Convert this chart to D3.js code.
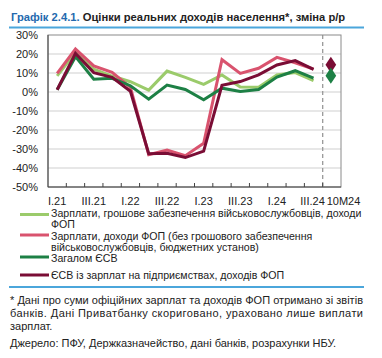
<!DOCTYPE html>
<html><head><meta charset="utf-8">
<script src="https://cdn.jsdelivr.net/npm/d3@7"></script>
<style>
html,body{margin:0;padding:0;background:#fff;}
svg{display:block;font-family:"Liberation Sans",Arial,sans-serif;}
</style></head>
<body>
<script>
const categories = ["I.21","II.21","III.21","IV.21","I.22","II.22","III.22","IV.22","I.23","II.23","III.23","IV.23","I.24","II.24","III.24","10M24"];
const tickLabels = ["I.21","III.21","I.22","III.22","I.23","III.23","I.24","III.24","10M24"];
const yTicks = [30,20,10,0,-10,-20,-30,-40,-50];

const wagesAll      = [8.5, 20.8, 12.0, 8.4, 5.4, 1.0, 11.0, 7.7, 4.0, 9.0, 2.6, 2.5, 9.0, 10.2, 6.0];
const wagesNoMil    = [9.8, 22.6, 13.7, 10.4, 2.5, -33.0, -30.5, -33.5, -27.0, 17.0, 9.8, 12.5, 18.2, 15.4, 12.0];
const esvTotal      = [1.2, 18.6, 6.7, 7.2, 3.3, -3.8, 3.6, 1.3, -4.1, 2.0, 0.3, 1.3, 7.9, 11.2, 7.3];
const esvEnterprise = [1.2, 20.3, 10.2, 7.7, 0.4, -32.5, -32.3, -34.5, -31.1, 3.5, 5.5, 9.0, 14.2, 16.5, 11.9];
const esvTotal10M = 8.6;
const esvEnterprise10M = 14.3;

const seriesNames = [
  ["Зарплати, грошове забезпечення військовослужбовців, доходи","ФОП"],
  ["Зарплати, доходи ФОП (без грошового забезпечення","військовослужбовців, бюджетних установ)"],
  ["Загалом ЄСВ"],
  ["ЄСВ із зарплат на підприємствах, доходів ФОП"]
];
const colors = ["#9BCB6B","#D9536E","#1D8045","#7A0D35"];

(function(){
const W=382,H=358;
const svg=d3.select("body").append("svg").attr("width",W).attr("height",H);

// title
const t=svg.append("text").attr("x",11).attr("y",21).attr("font-size",11.2).attr("font-weight","bold");
t.append("tspan").attr("fill","#2469AE").text("Графік 2.4.1. ");
t.append("tspan").attr("fill","#222").text("Оцінки реальних доходів населення*, зміна р/р");
svg.append("line").attr("x1",9).attr("x2",364).attr("y1",27.5).attr("y2",27.5).attr("stroke","#4BA6DB").attr("stroke-width",2);

const pL=48,pR=341,pT=35,pB=187;
const x=d3.scaleBand().domain(categories).range([pL,pR]);
const y=d3.scaleLinear().domain([-50,30]).range([pB,pT]);
const cx=d=>x(d)+x.bandwidth()/2;

// grid
svg.append("g").selectAll("line").data(yTicks.filter(v=>v>-50&&v<30)).join("line")
  .attr("x1",pL).attr("x2",pR).attr("y1",d=>y(d)).attr("y2",d=>y(d))
  .attr("stroke","#cfcfcf").attr("stroke-width",1);

// dashed separator
const sepX = x("10M24");
svg.append("line").attr("x1",sepX).attr("x2",sepX).attr("y1",pT).attr("y2",pB)
  .attr("stroke","#999").attr("stroke-width",1.3).attr("stroke-dasharray","4,3");

// frame
svg.append("rect").attr("x",pL).attr("y",pT).attr("width",pR-pL).attr("height",pB-pT)
  .attr("fill","none").attr("stroke","#8a8a8a").attr("stroke-width",1);
svg.append("line").attr("x1",pL).attr("x2",pL).attr("y1",pT).attr("y2",pB).attr("stroke","#444");
svg.append("line").attr("x1",pL).attr("x2",pR).attr("y1",pB).attr("y2",pB).attr("stroke","#444");

// x ticks
svg.append("g").selectAll("line").data(categories.slice(1)).join("line")
  .attr("x1",d=>x(d)).attr("x2",d=>x(d)).attr("y1",pB).attr("y2",pB-4)
  .attr("stroke","#444");

// x labels
svg.append("g").selectAll("text").data(tickLabels).join("text")
  .attr("x",d=>d==="10M24"?sepX+4:cx(d)-(d==="III.24"?1:0)).attr("y",205)
  .attr("text-anchor",d=>d==="10M24"?"start":"middle").attr("font-size",11).attr("fill","#222").text(d=>d);

// y labels
svg.append("g").selectAll("text").data(yTicks).join("text")
  .attr("x",38).attr("y",d=>y(d)+4).attr("text-anchor","end").attr("font-size",11).attr("fill","#222")
  .text(d=>d+"%");

// lines
const line=d3.line().x((d,i)=>cx(categories[i])).y(d=>y(d));
[wagesAll,wagesNoMil,esvTotal,esvEnterprise].forEach((s,i)=>{
  svg.append("path").datum(s).attr("d",line).attr("fill","none")
    .attr("stroke",colors[i]).attr("stroke-width",3).attr("stroke-linejoin","miter");
});

// diamonds
const sym=d3.symbol().type(d3.symbolDiamond).size(75);
[[esvEnterprise10M,colors[3]],[esvTotal10M,colors[2]]].forEach(([v,c])=>{
  svg.append("path").attr("d",sym).attr("transform",`translate(${cx("10M24")-1},${y(v)}) scale(1.15,1)`).attr("fill",c);
});

// legend
const legLineY=[214.5,235,257,275];
const legTextY=[[213,224.5],[236,247],[258.5],[275.5]];
seriesNames.forEach((lines,i)=>{
  svg.append("line").attr("x1",20).attr("x2",49).attr("y1",legLineY[i]).attr("y2",legLineY[i])
    .attr("stroke",colors[i]).attr("stroke-width",3);
  lines.forEach((l,j)=>{
    svg.append("text").attr("x",51).attr("y",legTextY[i][j]+3.8).attr("font-size",10.6).attr("fill","#222").text(l);
  });
});

svg.append("line").attr("x1",9).attr("x2",364).attr("y1",287).attr("y2",287).attr("stroke","#4BA6DB").attr("stroke-width",2);

const foot=[
  ["* Дані про суми офіційних зарплат та доходів ФОП отримано зі звітів",true],
  ["банків. Дані Приватбанку скориговано, ураховано лише виплати",true],
  ["зарплат.",false]
];
foot.forEach(([s,just],i)=>{
  const tx=svg.append("text").attr("x",10).attr("y",304+i*13).attr("font-size",11).attr("fill","#222").text(s);
  if(just) tx.attr("textLength",353).attr("lengthAdjust","spacing");
});
svg.append("text").attr("x",10).attr("y",347).attr("font-size",11).attr("fill","#222")
  .text("Джерело: ПФУ, Держказначейство, дані банків, розрахунки НБУ.");
})();
</script>
</body></html>
